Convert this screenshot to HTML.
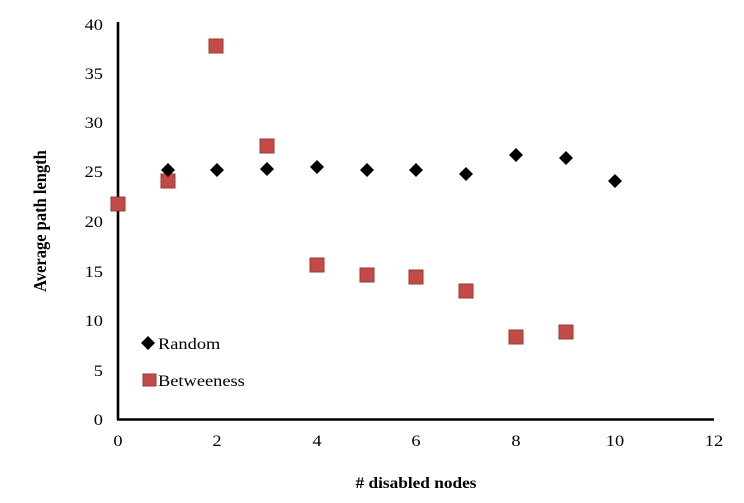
<!DOCTYPE html>
<html><head><meta charset="utf-8"><style>
html,body{margin:0;padding:0;background:#fff;}
svg{display:block;}
text{font-family:"Liberation Serif",serif;fill:#000;}
</style></head><body>
<svg width="744" height="503" viewBox="0 0 744 503" xmlns="http://www.w3.org/2000/svg">
<rect width="744" height="503" fill="#fff"/>
<!-- axes -->
<line x1="118" y1="22" x2="118" y2="420" stroke="#000" stroke-width="2.6"/>
<line x1="117" y1="419.5" x2="714" y2="419.5" stroke="#000" stroke-width="2.6"/>
<!-- y ticks -->
<g font-size="16" text-anchor="end">
<text transform="translate(103,30) scale(1.15,1)">40</text>
<text transform="translate(103,79) scale(1.15,1)">35</text>
<text transform="translate(103,128) scale(1.15,1)">30</text>
<text transform="translate(103,177) scale(1.15,1)">25</text>
<text transform="translate(103,227) scale(1.15,1)">20</text>
<text transform="translate(103,277) scale(1.15,1)">15</text>
<text transform="translate(103,326) scale(1.15,1)">10</text>
<text transform="translate(103,376) scale(1.15,1)">5</text>
<text transform="translate(103,425) scale(1.15,1)">0</text>
</g>
<!-- x ticks -->
<g font-size="16" text-anchor="middle">
<text transform="translate(118,446) scale(1.15,1)">0</text>
<text transform="translate(217,446) scale(1.15,1)">2</text>
<text transform="translate(317,446) scale(1.15,1)">4</text>
<text transform="translate(416,446) scale(1.15,1)">6</text>
<text transform="translate(516,446) scale(1.15,1)">8</text>
<text transform="translate(615,446) scale(1.15,1)">10</text>
<text transform="translate(714,446) scale(1.15,1)">12</text>
</g>
<!-- axis titles -->
<text transform="translate(416,488) scale(1.08,1)" font-size="16" font-weight="bold" text-anchor="middle"># disabled nodes</text>
<text transform="translate(46,221) rotate(-90) scale(1,1.1)" font-size="16.5" font-weight="bold" text-anchor="middle">Average path length</text>
<!-- Betweeness series -->
<g fill="#c24b48" stroke="#9a3835" stroke-width="1">
<rect x="111" y="197" width="14" height="14"/>
<rect x="161" y="174" width="14" height="14"/>
<rect x="209" y="39" width="14" height="14"/>
<rect x="260" y="139" width="14" height="14"/>
<rect x="310" y="258" width="14" height="14"/>
<rect x="360" y="268" width="14" height="14"/>
<rect x="409" y="270" width="14" height="14"/>
<rect x="459" y="284" width="14" height="14"/>
<rect x="509" y="330" width="14" height="14"/>
<rect x="559" y="325" width="14" height="14"/>
</g>
<!-- Random series -->
<g fill="#000">
<polygon points="168,163 175,170 168,177 161,170"/>
<polygon points="217,163 224,170 217,177 210,170"/>
<polygon points="267,162 274,169 267,176 260,169"/>
<polygon points="317,160 324,167 317,174 310,167"/>
<polygon points="367,163 374,170 367,177 360,170"/>
<polygon points="416,163 423,170 416,177 409,170"/>
<polygon points="466,167 473,174 466,181 459,174"/>
<polygon points="516,148 523,155 516,162 509,155"/>
<polygon points="566,151 573,158 566,165 559,158"/>
<polygon points="615,174 622,181 615,188 608,181"/>
</g>
<!-- legend -->
<polygon points="148,336 155,343 148,350 141,343" fill="#000"/>
<text transform="translate(158,349) scale(1.15,1)" font-size="16">Random</text>
<rect x="143" y="374" width="13" height="12" fill="#c24b48" stroke="#9a3835" stroke-width="1"/>
<text transform="translate(158,386) scale(1.15,1)" font-size="16">Betweeness</text>
</svg>
</body></html>
